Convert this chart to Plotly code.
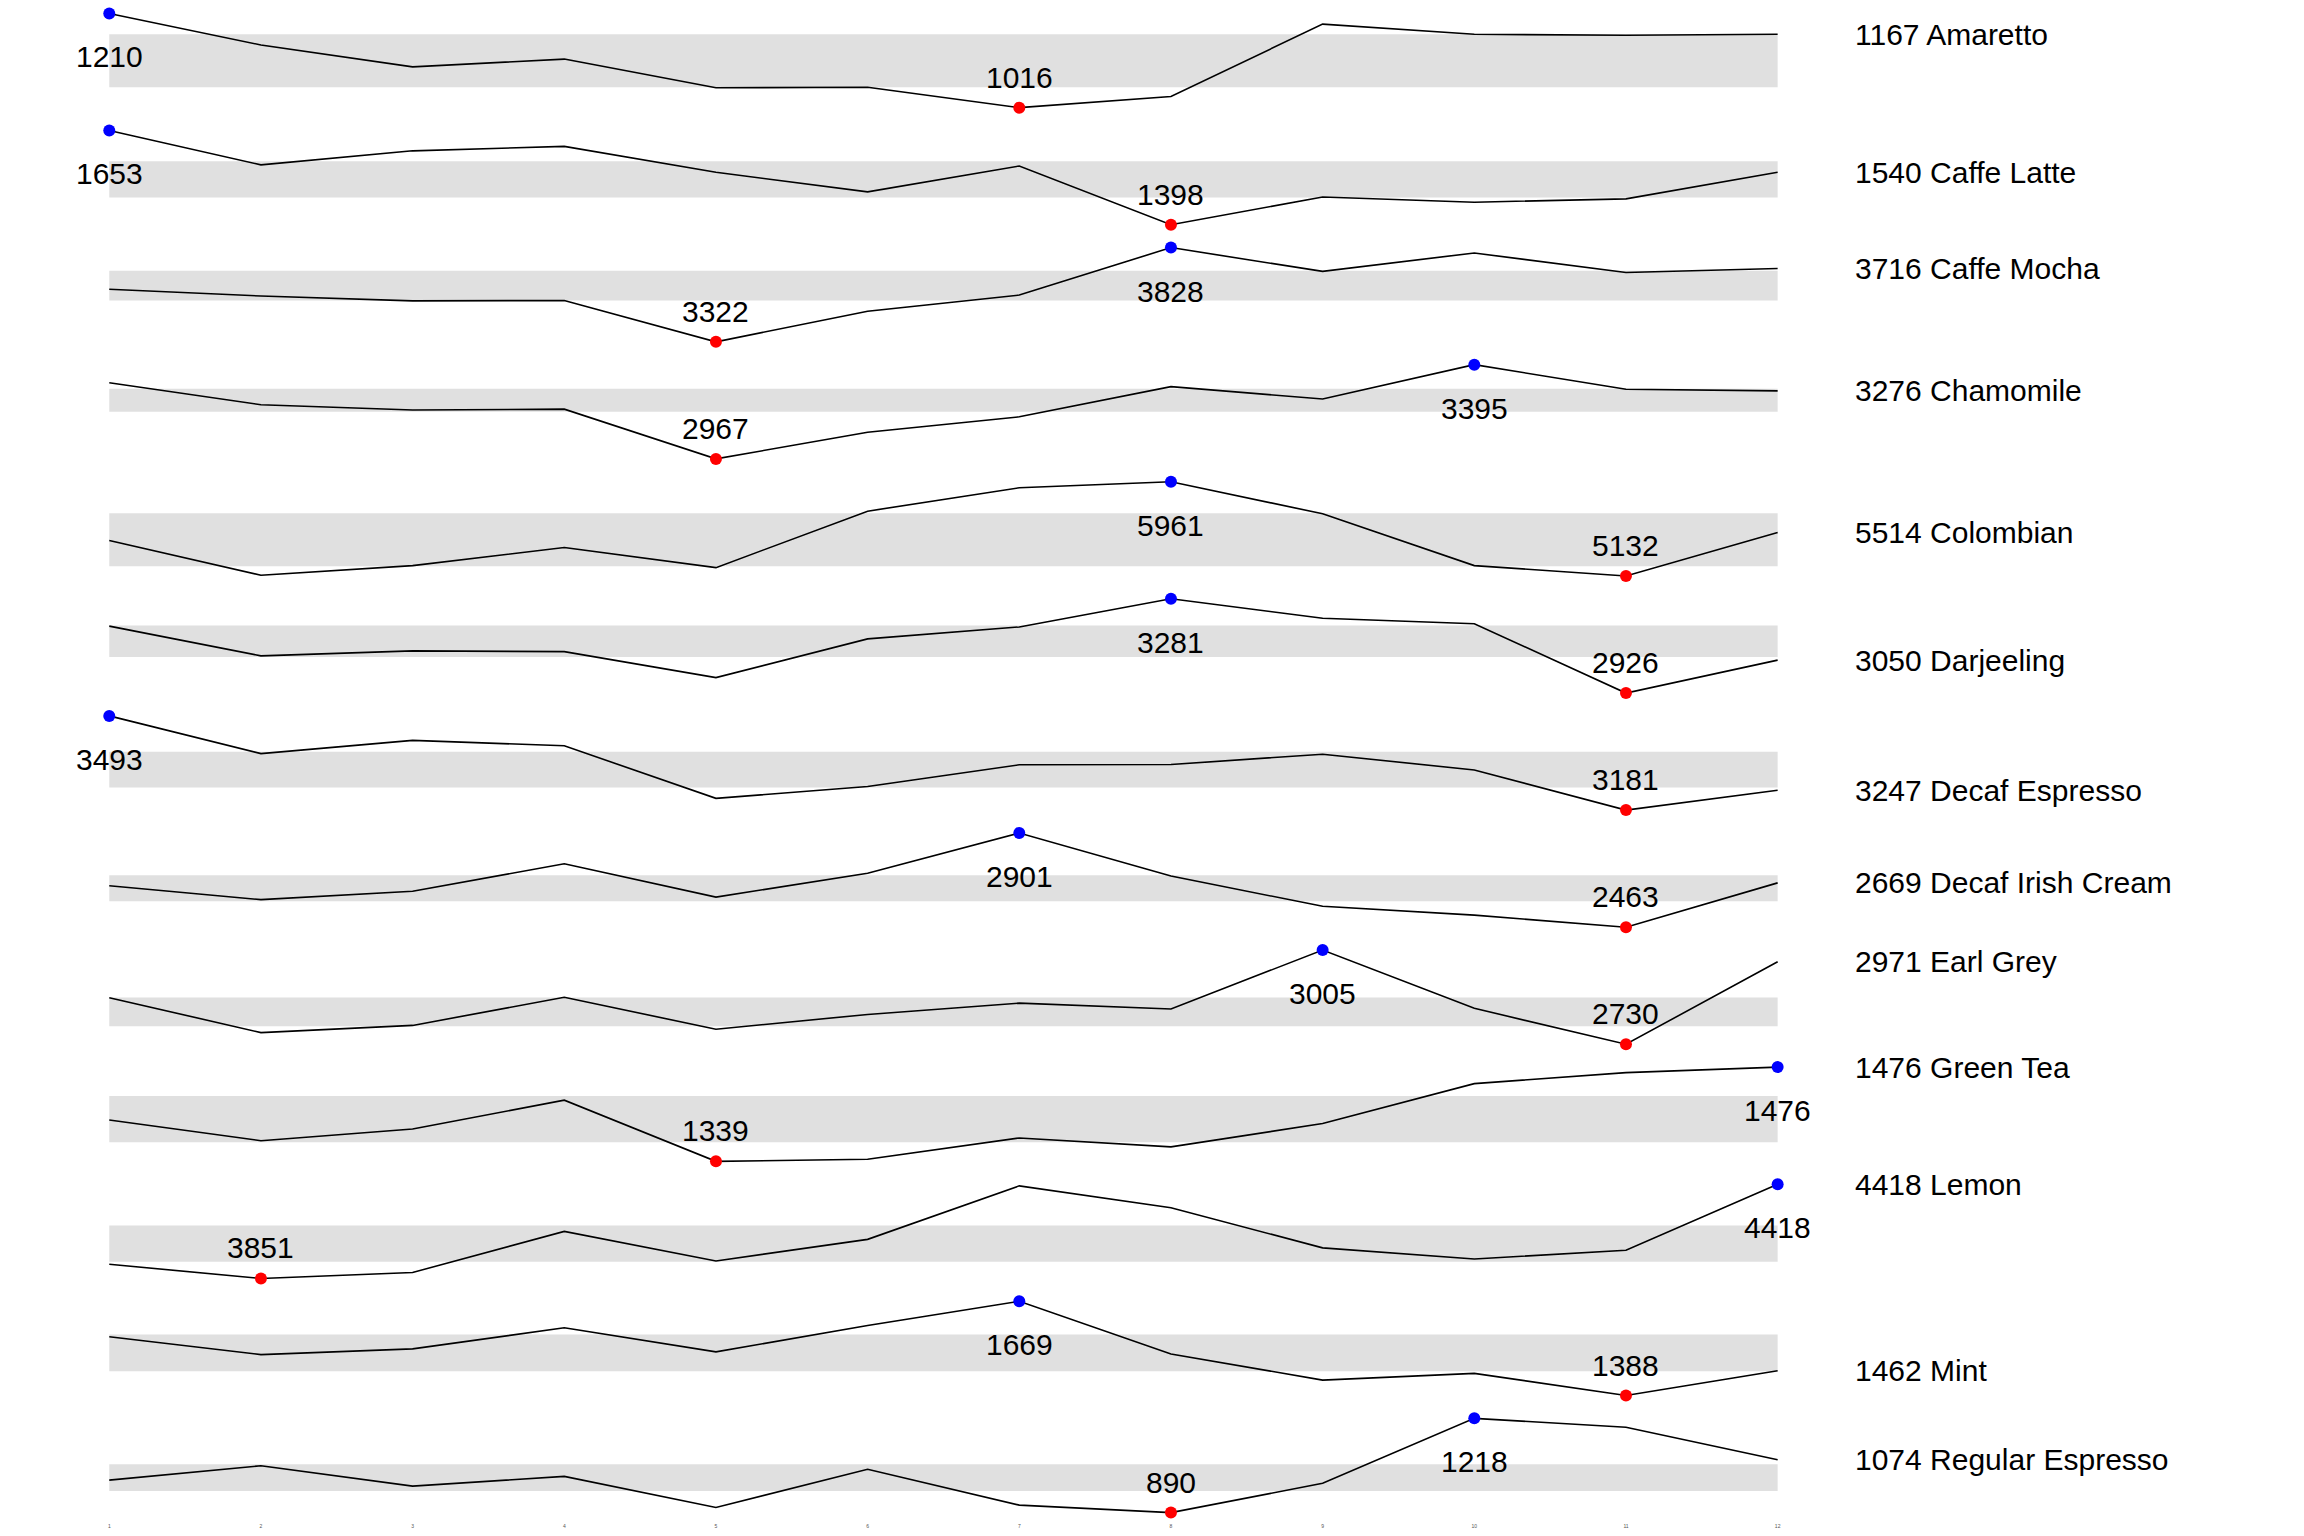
import numpy as np
import plotly.graph_objects as go
from plotly.subplots import make_subplots

months = list(range(1, 13))

products = ['Amaretto', 'Caffe Latte', 'Caffe Mocha', 'Chamomile', 'Colombian',
            'Darjeeling', 'Decaf Espresso', 'Decaf Irish Cream', 'Earl Grey',
            'Green Tea', 'Lemon', 'Mint', 'Regular Espresso']

amaretto = [1210, 1145, 1100, 1116, 1057, 1058, 1016, 1039, 1188, 1167, 1165, 1167]
caffe_latte = [1653, 1560, 1598, 1610, 1540, 1487, 1557, 1398, 1473, 1459, 1468, 1540]
caffe_mocha = [3604, 3568, 3542, 3544, 3322, 3486, 3573, 3828, 3700, 3799, 3694, 3716]
chamomile = [3313, 3213, 3189, 3193, 2967, 3088, 3158, 3295, 3239, 3395, 3283, 3276]
colombian = [5444, 5138, 5223, 5382, 5205, 5702, 5908, 5961, 5679, 5223, 5132, 5514]
darjeeling = [3178, 3066, 3085, 3082, 2984, 3130, 3175, 3281, 3208, 3187, 2926, 3050]
decaf_espresso = [3493, 3368, 3412, 3394, 3220, 3259, 3331, 3332, 3366, 3314, 3181, 3247]
decaf_irish_cream = [2656, 2591, 2630, 2758, 2603, 2714, 2901, 2701, 2560, 2519, 2463, 2669]
earl_grey = [2866, 2764, 2785, 2867, 2774, 2817, 2850, 2833, 3005, 2835, 2730, 2971]
green_tea = [1399, 1369, 1386, 1428, 1339, 1342, 1373, 1360, 1394, 1452, 1468, 1476]
lemon = [3936, 3851, 3887, 4134, 3956, 4086, 4408, 4276, 4035, 3968, 4021, 4418]
mint = [1563, 1510, 1527, 1590, 1518, 1597, 1669, 1512, 1434, 1454, 1388, 1462]
regular_espresso = [1003, 1053, 982, 1016, 908, 1041, 916, 890, 992, 1218, 1187, 1074]

sales = [amaretto, caffe_latte, caffe_mocha, chamomile, colombian, darjeeling,
         decaf_espresso, decaf_irish_cream, earl_grey, green_tea, lemon, mint,
         regular_espresso]

FONT = 'Liberation Sans, Arial, Helvetica, sans-serif'
FS = 30
n = len(products)

fig = make_subplots(rows=n, cols=1, shared_xaxes=True, vertical_spacing=0.00264)

for i, (name, vals) in enumerate(zip(products, sales), start=1):
    v = np.array(vals)
    q1, q3 = np.percentile(v, [25, 75])
    imin, imax = int(v.argmin()), int(v.argmax())

    # interquartile band
    fig.add_trace(go.Scatter(x=[months[0], months[-1]], y=[q1, q1], mode='lines',
                             line=dict(width=0), hoverinfo='skip'), row=i, col=1)
    fig.add_trace(go.Scatter(x=[months[0], months[-1]], y=[q3, q3], mode='lines',
                             line=dict(width=0), fill='tonexty', fillcolor='#E0E0E0',
                             hoverinfo='skip'), row=i, col=1)
    fig.add_trace(go.Scatter(x=months, y=vals, mode='lines',
                             line=dict(color='black', width=1.6)), row=i, col=1)
    fig.add_trace(go.Scatter(x=[months[imin]], y=[vals[imin]], mode='markers',
                             marker=dict(color='#FF0000', size=12), cliponaxis=False),
                  row=i, col=1)
    fig.add_trace(go.Scatter(x=[months[imax]], y=[vals[imax]], mode='markers',
                             marker=dict(color='#0000FF', size=12), cliponaxis=False),
                  row=i, col=1)

    # min label above, max label below
    fig.add_annotation(x=months[imin], y=vals[imin], text=str(vals[imin]),
                       showarrow=False, yanchor='bottom', yshift=12,
                       font=dict(family=FONT, size=FS, color='black'), row=i, col=1)
    fig.add_annotation(x=months[imax], y=vals[imax], text=str(vals[imax]),
                       showarrow=False, yanchor='top', yshift=-25,
                       font=dict(family=FONT, size=FS, color='black'), row=i, col=1)
    # end value + product name
    fig.add_annotation(x=12.5, y=vals[-1], text=f'{vals[-1]} {name}',
                       showarrow=False, xanchor='left', yanchor='middle',
                       font=dict(family=FONT, size=FS, color='black'), row=i, col=1)

    r = v.max() - v.min()
    fig.update_yaxes(range=[v.min() - 0.1 * r, v.max() + 0.1 * r], visible=False,
                     row=i, col=1)

fig.update_xaxes(range=[0.3125, 15.4375], showgrid=False, zeroline=False,
                 showline=False, ticks='', tickvals=months)
fig.update_xaxes(showticklabels=True, tickfont=dict(family=FONT, size=5, color='#555555'),
                 row=n, col=1)

fig.update_layout(width=2304, height=1536, showlegend=False,
                  plot_bgcolor='white', paper_bgcolor='white',
                  margin=dict(l=5, r=5, t=4, b=14))

fig.write_html('out.html', config={'displayModeBar': False},
               post_script="document.body.style.margin='0';")
